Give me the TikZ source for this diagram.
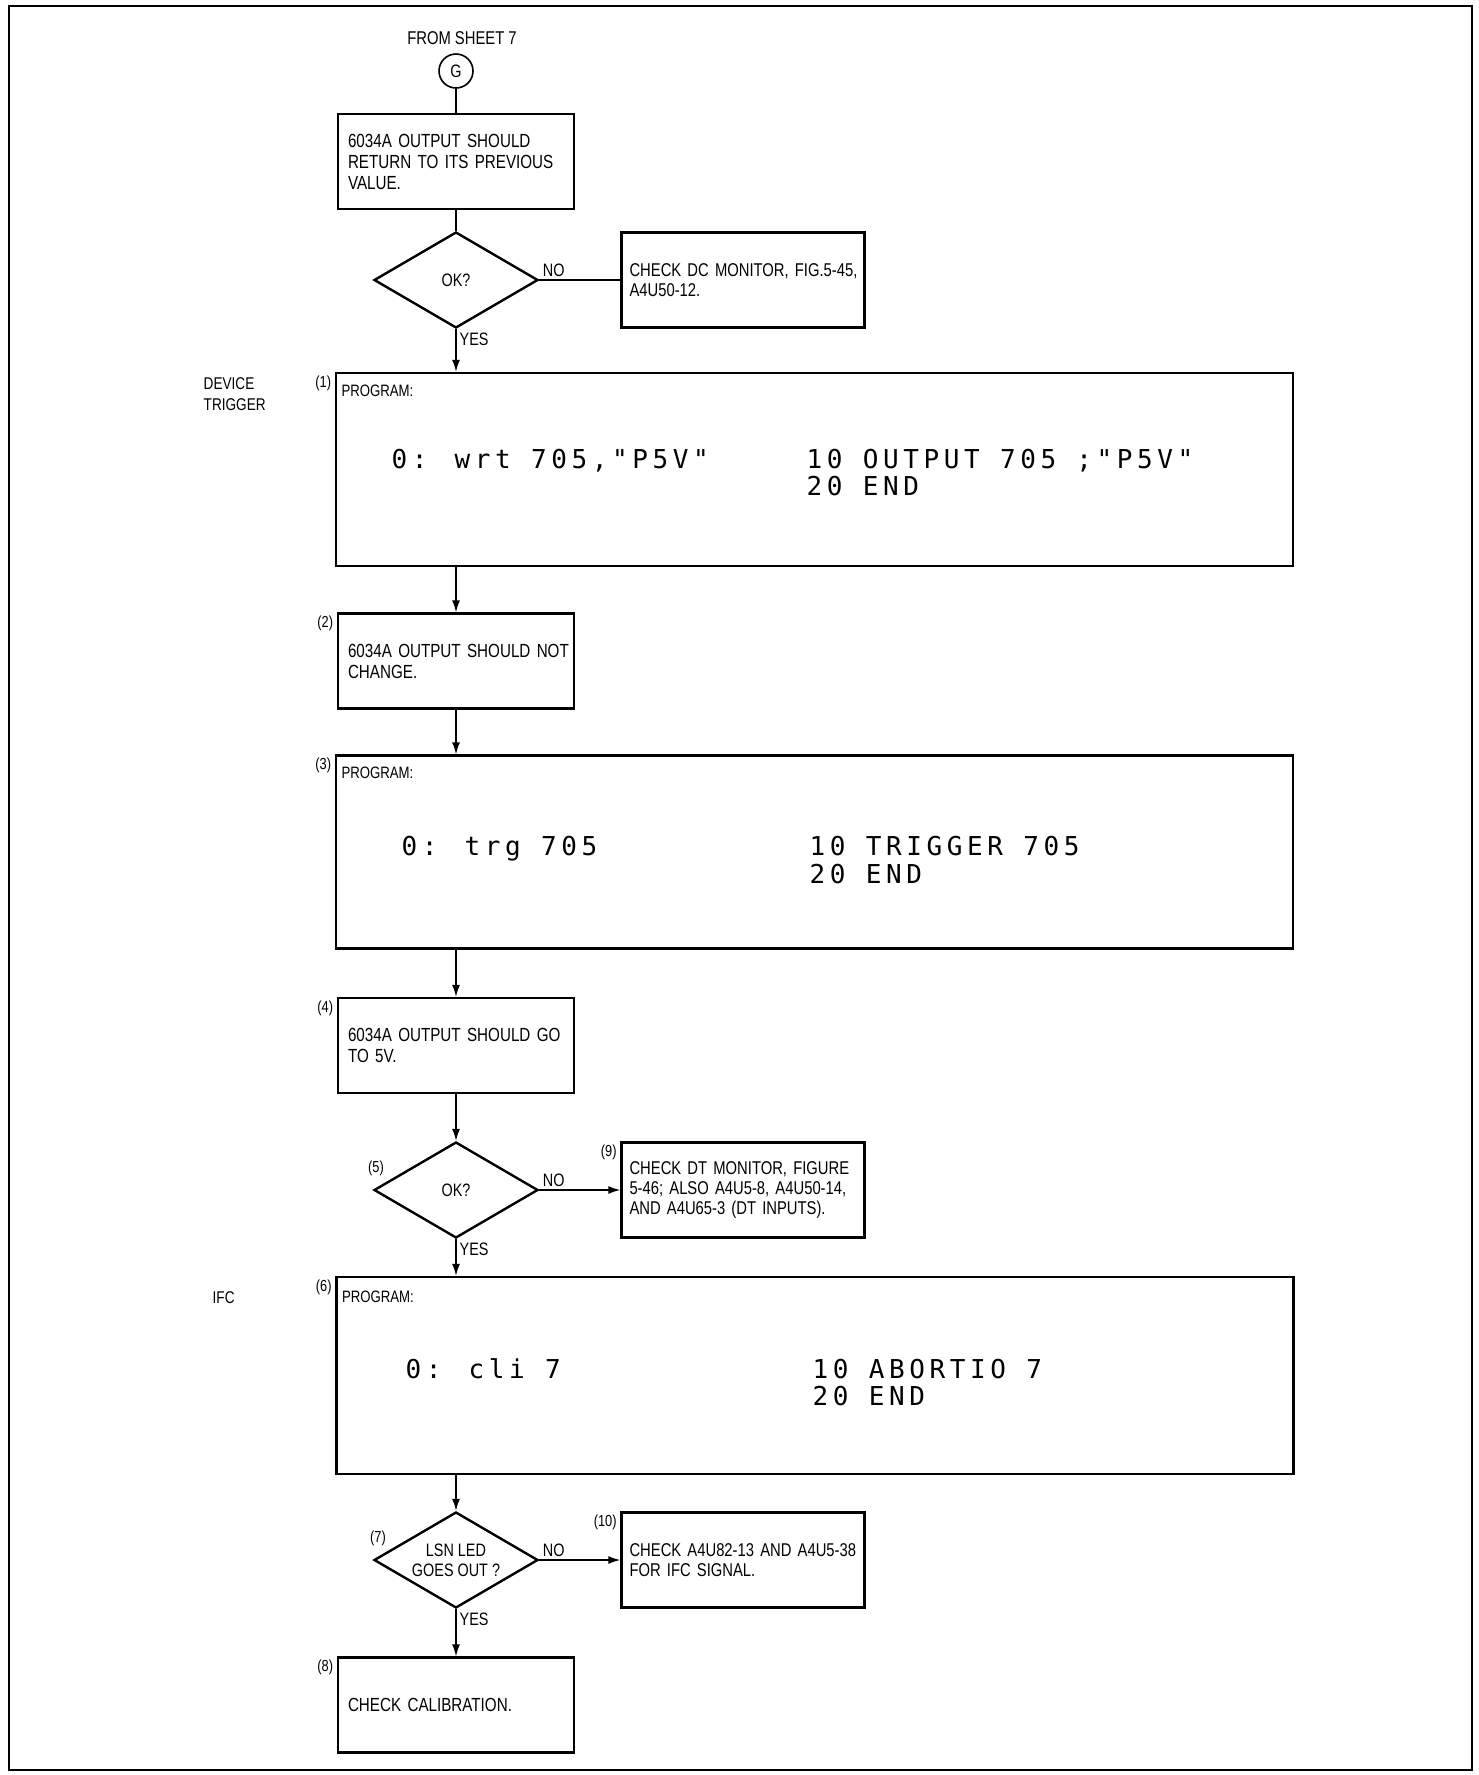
\documentclass[tikz,border=0pt]{standalone}
\usepackage{fontspec}
\setmainfont[FakeStretch=0.8]{Liberation Sans}
\newfontfamily\codefont[LetterSpace=17.7]{DejaVu Sans Mono}
\usetikzlibrary{arrows.meta,positioning,calc,shapes.geometric}
\hyphenpenalty=10000
\exhyphenpenalty=10000

\begin{document}
\begin{tikzpicture}[x=1pt,y=-1pt,>={Latex[length=12pt,width=8pt]},line width=1.4pt,every node/.style={font=\fontsize{18}{20}\selectfont}]
\tikzset{cblock/.style={draw,line width=2.4pt,minimum width=236pt,minimum height=95pt,inner xsep=10pt,text width=216pt,align=left,font=\fontsize{19}{21}\selectfont},
  sblock/.style={cblock,minimum width=243pt,inner xsep=8pt,text width=227pt,font=\fontsize{18.5}{20}\selectfont},
  pblock/.style={draw,line width=2.4pt,minimum width=957pt,minimum height=193pt},
  dec/.style={draw,diamond,aspect=1.7,line width=2.4pt,minimum width=164pt,minimum height=96pt,inner sep=0pt,align=center},
  tag/.style={font=\fontsize{16}{18}\selectfont,inner sep=3pt},
  ptitle/.style={font=\fontsize{16.5}{18}\selectfont,anchor=north west,inner sep=0pt},
  prgline/.style={font=\codefont\fontsize{26}{28}\selectfont,anchor=base west,inner sep=0pt},
  side/.style={font=\fontsize{17}{21}\selectfont,align=left,anchor=north west,inner sep=0pt}}
\useasboundingbox (0,0) rectangle (1478,1775);
\draw[line width=2pt] (9,6) rectangle (1472,1770);
% entry
\node[font=\fontsize{18.5}{20}\selectfont] (sheet) at (462,38) {FROM SHEET 7};
\node[draw,circle,minimum size=34pt,inner sep=0pt,line width=1.6pt] (g) at (456,71) {G};
\node[cblock] (ret) at (456,161.5) {6034A~OUTPUT~SHOULD\\RETURN~TO~ITS~PREVIOUS\\VALUE.};
\node[dec] (okA) at (456,280) {OK?};
\node[sblock] (dcmon) at (743,280) {CHECK~DC~MONITOR,~FIG.5-45,\\A4U50-12.};
% device trigger
\node[side] (devtrg) at (203,377) {DEVICE\\TRIGGER};
\node[pblock] (prgA) at (814.5,469.5) {};
\node[tag,anchor=north east] (n1) at (prgA.north west) {(1)};
\node[ptitle] (prgAt) at ($(prgA.north west)+(6,12)$) {PROGRAM:};
\node[prgline] (prgAl) at (391,468) {0: wrt 705,"P5V"};
\node[prgline] (prgAr) at (806,468) {10 OUTPUT 705 ;"P5V"};
\node[prgline] (prgAe) at (806,495) {20 END};
\node[cblock] (nochg) at (456,661) {6034A~OUTPUT~SHOULD~NOT\\CHANGE.};
\node[tag,anchor=north east] (n2) at (nochg.north west) {(2)};
\node[pblock] (prgB) at (814.5,852) {};
\node[tag,anchor=north east] (n3) at (prgB.north west) {(3)};
\node[ptitle] (prgBt) at ($(prgB.north west)+(6,12)$) {PROGRAM:};
\node[prgline] (prgBl) at (401,855) {0: trg 705};
\node[prgline] (prgBr) at (809,855) {10 TRIGGER 705};
\node[prgline] (prgBe) at (809,883) {20 END};
\node[cblock] (go5v) at (456,1045.5) {6034A~OUTPUT~SHOULD~GO\\TO~5V.};
\node[tag,anchor=north east] (n4) at (go5v.north west) {(4)};
\node[dec] (okB) at (456,1190) {OK?};
\node[tag] (n5) at (376,1168) {(5)};
\node[sblock] (dtmon) at (743,1190) {CHECK~DT~MONITOR,~FIGURE\\5-46;~ALSO~A4U5-8,~A4U50-14,\\AND~A4U65-3~(DT~INPUTS).};
\node[tag,anchor=north east] (n9) at (dtmon.north west) {(9)};
% ifc
\node[side] (ifc) at (212,1291) {IFC};
\node[pblock,minimum height=197pt] (prgC) at (815,1375.5) {};
\node[tag,anchor=north east] (n6) at (prgC.north west) {(6)};
\node[ptitle] (prgCt) at ($(prgC.north west)+(6,14)$) {PROGRAM:};
\node[prgline] (prgCl) at (405,1378) {0: cli 7};
\node[prgline] (prgCr) at (812,1378) {10 ABORTIO 7};
\node[prgline] (prgCe) at (812,1405) {20 END};
\node[dec] (okC) at (456,1560) {LSN LED\\GOES OUT ?};
\node[tag] (n7) at (378,1538) {(7)};
\node[sblock] (ifcchk) at (743,1560) {CHECK~A4U82-13~AND~A4U5-38\\FOR~IFC~SIGNAL.};
\node[tag,anchor=north east] (n10) at (ifcchk.north west) {(10)};
\node[cblock] (calib) at (456,1705) {CHECK~CALIBRATION.};
\node[tag,anchor=north east] (n8) at (calib.north west) {(8)};
% connectors
\draw (g) -- (ret);
\draw (ret) -- (okA);
\draw (okA) -- node[pos=0,above right,inner sep=3pt] {NO} (dcmon);
\draw[->] (okA) -- node[pos=0,below right,inner sep=3pt] {YES} (okA |- prgA.north);
\draw[->] (prgA.south -| nochg) -- (nochg);
\draw[->] (nochg) -- (nochg |- prgB.north);
\draw[->] (prgB.south -| go5v) -- (go5v);
\draw[->] (go5v) -- (okB);
\draw[->] (okB) -- node[pos=0,above right,inner sep=3pt] {NO} (dtmon);
\draw[->] (okB) -- node[pos=0,below right,inner sep=3pt] {YES} (okB |- prgC.north);
\draw[->] (prgC.south -| okC) -- (okC);
\draw[->] (okC) -- node[pos=0,above right,inner sep=3pt] {NO} (ifcchk);
\draw[->] (okC) -- node[pos=0,below right,inner sep=3pt] {YES} (calib);
\end{tikzpicture}
\end{document}
